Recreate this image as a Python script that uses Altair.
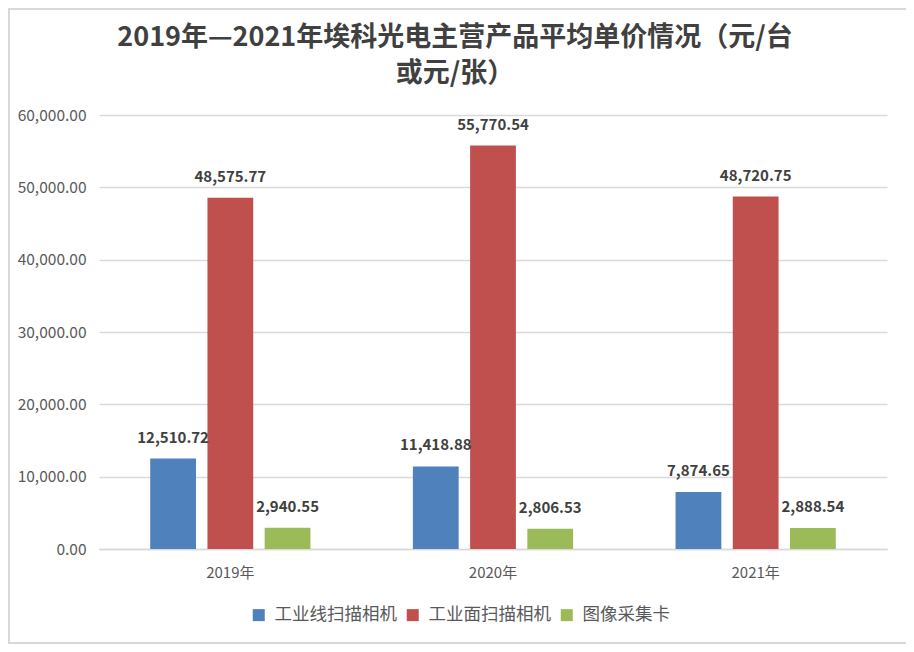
import altair as alt
import pandas as pd

years = ["2019年", "2020年", "2021年"]
series = ["工业线扫描相机", "工业面扫描相机", "图像采集卡"]
line_scan = [12510.72, 11418.88, 7874.65]
area_scan = [48575.77, 55770.54, 48720.75]
capture_card = [2940.55, 2806.53, 2888.54]
colors = ["#4F81BD", "#C0504D", "#9BBB59"]
title_lines = ["2019年—2021年埃科光电主营产品平均单价情况（元/台", "或元/张）"]

rows = []
for i, y in enumerate(years):
    for s, vals in zip(series, [line_scan, area_scan, capture_card]):
        rows.append({"year": y, "series": s, "value": vals[i]})
df = pd.DataFrame(rows)

FONT = "Noto Sans CJK SC"
W, H = 788, 434

x = alt.X("year:N", sort=years, title=None,
          scale=alt.Scale(paddingInner=0.39, paddingOuter=0.195),
          axis=alt.Axis(labelAngle=0, labelFontSize=15, labelColor="#595959",
                        labelPadding=16, ticks=False, domainColor="#D9D9D9",
                        domainWidth=1.5, labelFont=FONT))
xo = alt.XOffset("series:N", sort=series,
                 scale=alt.Scale(paddingInner=0.2, paddingOuter=0))
y = alt.Y("value:Q", title=None,
          scale=alt.Scale(domain=[0, 60000]),
          axis=alt.Axis(values=[0, 10000, 20000, 30000, 40000, 50000, 60000],
                        format=",.2f", labelFontSize=15.5, labelColor="#595959",
                        labelPadding=13, ticks=False, domain=False,
                        gridColor="#D9D9D9", gridWidth=1.5, labelFont=FONT))

bars = alt.Chart(df).mark_bar().encode(
    x=x, xOffset=xo, y=y,
    color=alt.Color("series:N", sort=series,
                    scale=alt.Scale(domain=series, range=colors),
                    legend=alt.Legend(title=None, orient="none", direction="horizontal",
                                      legendX=151, legendY=491,
                                      symbolType="square", symbolSize=144,
                                      symbolStrokeWidth=0,
                                      labelFontSize=17.5, labelColor="#595959",
                                      labelFont=FONT, labelOffset=7,
                                      columnPadding=7)),
)

labels = alt.Chart(df).mark_text(
    baseline="bottom", dy=-13, fontSize=15, fontWeight="bold",
    color="#404040", font=FONT
).encode(
    x=alt.X("year:N", sort=years), xOffset=alt.XOffset("series:N", sort=series),
    y="value:Q",
    text=alt.Text("value:Q", format=",.2f"),
)

border = alt.Chart(df).mark_rect(
    fill=None, stroke="#D9D9D9", strokeWidth=2
).encode(
    x=alt.value(-90), x2=alt.value(808), y=alt.value(-106), y2=alt.value(528)
)

chart = alt.layer(border, bars, labels).properties(
    width=W, height=H,
    background="white",
    autosize=alt.AutoSizeParams(type="none"),
    padding={"left": 91, "top": 107, "right": 19, "bottom": 95},
    title=alt.Title(title_lines, fontSize=27, fontWeight="bold", color="#404040",
                    font=FONT, anchor="middle", dx=-38, offset=-80, lineHeight=36),
).configure_view(strokeWidth=0, stroke="transparent")

chart.save("out.html", embed_options={"renderer": "svg", "actions": False})
